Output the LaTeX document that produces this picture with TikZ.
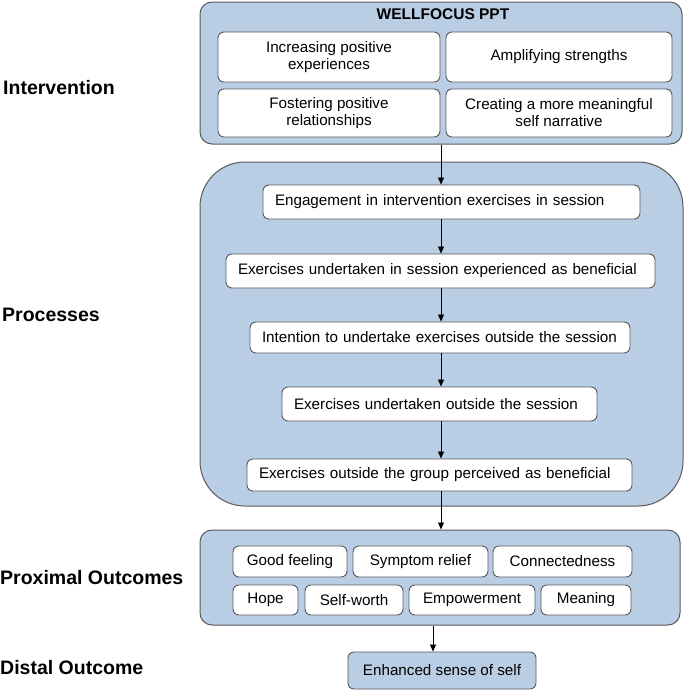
\documentclass[tikz,border=0pt]{standalone}
\usepackage{fontspec}
\setmainfont{Liberation Sans}
\usetikzlibrary{arrows.meta}
\definecolor{panelblue}{RGB}{185,205,229}
\definecolor{edgegray}{RGB}{90,90,90}

\begin{document}
\begin{tikzpicture}[x=1pt, y=-1pt,
  group/.style={draw=edgegray, line width=1pt, fill=panelblue, rounded corners=12pt},
  item/.style={draw=edgegray, line width=0.9pt, fill=white, rounded corners=6pt, inner sep=0pt,
    font=\fontsize{15.2}{17}\selectfont, align=center},
  stepbox/.style={item, align=left, inner xsep=12pt},
  heading/.style={font=\fontsize{19.5}{22}\selectfont\bfseries, anchor=west, inner sep=0pt},
  flow/.style={-{Triangle[length=7pt,width=6pt]}, line width=0.8pt}]
\useasboundingbox (0,0) rectangle (685,691);

% row labels
\node[heading] (intlabel) at (3,88) {Intervention};
\node[heading] (proclabel) at (2,315) {Processes};
\node[heading] (proxlabel) at (0,578) {Proximal Outcomes};
\node[heading] (distlabel) at (0,668) {Distal Outcome};

% intervention
\node[group, minimum width=482pt, minimum height=142pt] (intbox) at (441,73) {};
\node[font=\fontsize{15.5}{17}\selectfont\bfseries] (wellfocus) at (443,14) {WELLFOCUS PPT};
\node[item, minimum width=222pt, minimum height=50pt] (incpos) at (329,57) {Increasing positive\\experiences};
\node[item, minimum width=226pt, minimum height=50pt] (amplify) at (559,57) {Amplifying strengths};
\node[item, minimum width=222pt, minimum height=48pt] (foster) at (329,113) {Fostering positive\\relationships};
\node[item, minimum width=226pt, minimum height=48pt] (narrative) at (559,113) {Creating a more meaningful\\self narrative};

% processes
\node[group, rounded corners=45pt, minimum width=483pt, minimum height=344pt] (procbox) at (441.5,334) {};
\node[stepbox, text width=353pt, minimum height=34pt] (engage) at (451.5,202) {Engagement in intervention exercises in session};
\node[stepbox, text width=405pt, minimum height=34pt] (benefit) at (440.5,271) {Exercises undertaken in session experienced as beneficial};
\node[stepbox, text width=356pt, minimum height=31pt] (intend) at (440,337.5) {Intention to undertake exercises outside the session};
\node[stepbox, text width=291pt, minimum height=34pt] (outside) at (439.5,404) {Exercises undertaken outside the session};
\node[stepbox, text width=361pt, minimum height=32pt] (perceived) at (439.5,475) {Exercises outside the group perceived as beneficial};

% proximal outcomes
\node[group, minimum width=480pt, minimum height=95pt] (proxbox) at (440,577.5) {};
\node[item, minimum width=114pt, minimum height=31pt] (goodfeel) at (290,561.5) {Good feeling};
\node[item, minimum width=135pt, minimum height=31pt] (relief) at (420.5,561.5) {Symptom relief};
\node[item, minimum width=139pt, minimum height=31pt] (connect) at (562.5,561.5) {Connectedness};
\node[item, minimum width=65pt, minimum height=30pt] (hope) at (265.5,600) {Hope};
\node[item, minimum width=98pt, minimum height=30pt] (selfworth) at (354,600) {Self-worth};
\node[item, minimum width=126pt, minimum height=30pt] (empower) at (472,600) {Empowerment};
\node[item, minimum width=90pt, minimum height=30pt] (meaning) at (586,600) {Meaning};

% distal outcome
\node[item, fill=panelblue, minimum width=188pt, minimum height=37pt] (enhanced) at (442,670.5) {Enhanced sense of self};

% arrows
\draw[flow] (intbox.south) -- (intbox.south |- engage.north);
\draw[flow] (engage.south -| intbox.south) -- (benefit.north -| intbox.south);
\draw[flow] (benefit.south -| intbox.south) -- (intend.north -| intbox.south);
\draw[flow] (intend.south -| intbox.south) -- (outside.north -| intbox.south);
\draw[flow] (outside.south -| intbox.south) -- (perceived.north -| intbox.south);
\draw[flow] (perceived.south -| intbox.south) -- (proxbox.north -| intbox.south);
\draw[flow] ([xshift=-9pt]enhanced.north |- proxbox.south) -- ([xshift=-9pt]enhanced.north);
\end{tikzpicture}
\end{document}
